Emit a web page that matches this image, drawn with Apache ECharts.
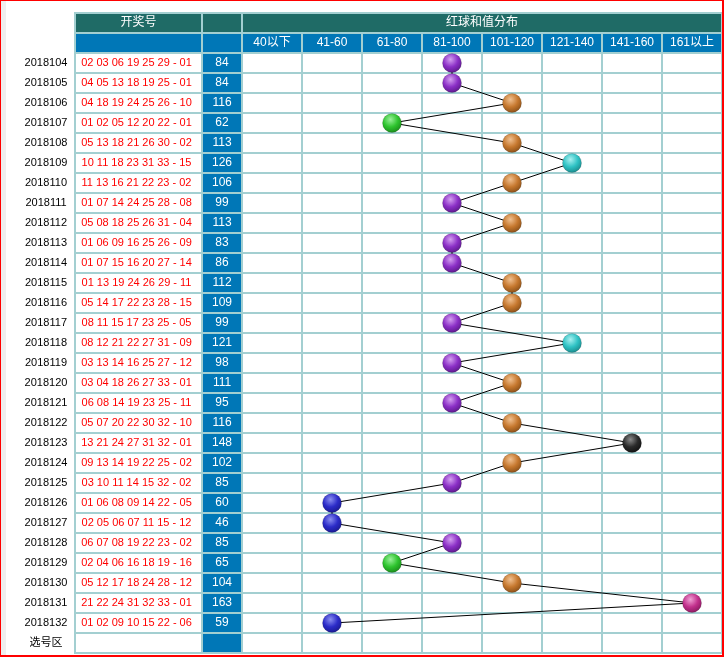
<!DOCTYPE html>
<html><head><meta charset="utf-8">
<script src="https://cdn.jsdelivr.net/npm/echarts@6/dist/echarts.min.js"></script>
<style>html,body{margin:0;padding:0;background:#fff}#c{width:725px;height:660px}</style>
</head><body><div id="c"></div>
<script>
const periods = ['2018104','2018105','2018106','2018107','2018108','2018109','2018110','2018111','2018112','2018113','2018114','2018115','2018116','2018117','2018118','2018119','2018120','2018121','2018122','2018123','2018124','2018125','2018126','2018127','2018128','2018129','2018130','2018131','2018132'];
const redBalls = [[2,3,6,19,25,29],[4,5,13,18,19,25],[4,18,19,24,25,26],[1,2,5,12,20,22],[5,13,18,21,26,30],[10,11,18,23,31,33],[11,13,16,21,22,23],[1,7,14,24,25,28],[5,8,18,25,26,31],[1,6,9,16,25,26],[1,7,15,16,20,27],[1,13,19,24,26,29],[5,14,17,22,23,28],[8,11,15,17,23,25],[8,12,21,22,27,31],[3,13,14,16,25,27],[3,4,18,26,27,33],[6,8,14,19,23,25],[5,7,20,22,30,32],[13,21,24,27,31,32],[9,13,14,19,22,25],[3,10,11,14,15,32],[1,6,8,9,14,22],[2,5,6,7,11,15],[6,7,8,19,22,23],[2,4,6,16,18,19],[5,12,17,18,24,28],[21,22,24,31,32,33],[1,2,9,10,15,22]];
const blueBalls = [1,1,10,1,2,15,2,8,4,9,14,11,15,5,9,12,1,11,10,1,2,2,5,12,2,16,12,1,6];
const sums = [84,84,116,62,113,126,106,99,113,83,86,112,109,99,121,98,111,95,116,148,102,85,60,46,85,65,104,163,59];
const bucketLabels = ['40以下','41-60','61-80','81-100','101-120','121-140','141-160','161以上'];
const bucketLimits = [40,60,80,100,120,140,160];
const headerTitles = ['开奖号','','红球和值分布'];
const footerLabel = '选号区';

const TEAL = '#a3cfd1', DARK = '#1f6b66', BLUE = '#0077b7';
const ballColors = [
  ['#9a9a9a','#555555','#333333'],
  ['#8a8ef0','#2b2bc8','#1a1a90'],
  ['#9af09a','#2ec42e','#1a8a1a'],
  ['#d4a0f0','#8b2fc6','#5c1a8a'],
  ['#f0c090','#c6782e','#8a5018'],
  ['#a8f0f0','#2ec2c4','#1a8a8c'],
  ['#8a8a8a','#2a2a2a','#111111'],
  ['#f0a0d4','#c2308c','#8a1a60']
];
function bucketOf(s){ let b=0; while(b<bucketLimits.length && s>bucketLimits[b]) b++; return b; }
function pad(n){ return (n<10?'0':'')+n; }
function grad(b){ const c=ballColors[b]; return {type:'radial',x:0.42,y:0.32,r:0.7,colorStops:[{offset:0,color:c[0]},{offset:0.55,color:c[1]},{offset:1,color:c[2]}]}; }

const rows = ['H0','H1'].concat(periods).concat([footerLabel]);
const idx = rows.map((_,i)=>i);

function cellRect(api, x, r){
  const c = api.coord([x, r]); const s = api.size([1,1]);
  return {x:c[0]-s[0]/2+1, y:c[1]-s[1]/2+1, width:s[0]-2, height:s[1]-2, cx:c[0], cy:c[1]};
}
const hdrFont = '12px "Liberation Sans","Noto Sans CJK SC",sans-serif';

function yAxisFor(gi, showLabels){
  return {type:'category', gridIndex:gi, data:rows, inverse:true, boundaryGap:true,
    axisLine:{show:false}, axisTick:{show:false},
    axisLabel:{show:showLabels, align:'center', margin:29, color:'#000', fontSize:11,
      fontFamily:'"Liberation Sans","Noto Sans CJK SC",sans-serif',
      formatter:v=> (v==='H0'||v==='H1')?'':v},
    splitLine:{show:true, interval:0, lineStyle:{color:TEAL, width:2}}};
}
function xAxisFor(gi, data){
  return {type:'category', gridIndex:gi, data:data, boundaryGap:true,
    axisLine:{show:false}, axisTick:{show:false}, axisLabel:{show:false},
    splitLine:{show:true, interval:0, lineStyle:{color:TEAL, width:2}}};
}
const gridBase = {show:true, backgroundColor:'#fff', borderColor:TEAL, borderWidth:2, top:13, height:640, containLabel:false};

const headerItems = [[0,0,1]].concat(bucketLabels.map((_,i)=>[i,1,0]));

const option = {
  animation:false,
  backgroundColor:'#fff',
  graphic:[
    {type:'rect', z:-10, shape:{x:1,y:1,width:5,height:655}, style:{fill:'#efefef'}},
    {type:'rect', z:100, shape:{x:0,y:0,width:723,height:656}, style:{fill:null, stroke:'#ff0000', lineWidth:2}}
  ],
  grid:[
    Object.assign({}, gridBase, {left:75, width:127}),
    Object.assign({}, gridBase, {left:202, width:40}),
    Object.assign({}, gridBase, {left:242, width:480})
  ],
  xAxis:[ xAxisFor(0,['n']), xAxisFor(1,['s']), xAxisFor(2,bucketLabels) ],
  yAxis:[ yAxisFor(0,true), yAxisFor(1,false), yAxisFor(2,false) ],
  series:[
    { type:'custom', xAxisIndex:0, yAxisIndex:0, data:idx, z:2,
      renderItem:(p, api)=>{
        const r = api.value(0); const rc = cellRect(api,0,r);
        if(r===0) return {type:'group', children:[
          {type:'rect', shape:{x:rc.x,y:rc.y,width:rc.width,height:rc.height}, style:{fill:DARK}},
          {type:'text', style:{text:headerTitles[0], x:rc.cx, y:rc.cy, align:'center', verticalAlign:'middle', fill:'#fff', font:hdrFont}}]};
        if(r===1) return {type:'rect', shape:{x:rc.x,y:rc.y,width:rc.width,height:rc.height}, style:{fill:BLUE}};
        if(r>=2 && r<2+periods.length){
          const i=r-2; const txt = redBalls[i].map(pad).join(' ')+' - '+pad(blueBalls[i]);
          return {type:'text', style:{text:txt, x:rc.cx-2, y:rc.cy, align:'center', verticalAlign:'middle', fill:'#ff0000', font:'11px "Liberation Sans",sans-serif'}};
        }
        return null;
      }},
    { type:'custom', xAxisIndex:1, yAxisIndex:1, data:idx, z:2,
      renderItem:(p, api)=>{
        const r = api.value(0); const rc = cellRect(api,0,r);
        const ch=[{type:'rect', shape:{x:rc.x,y:rc.y,width:rc.width,height:rc.height}, style:{fill:r===0?DARK:BLUE}}];
        if(r>=2 && r<2+periods.length)
          ch.push({type:'text', style:{text:String(sums[r-2]), x:rc.cx, y:rc.cy, align:'center', verticalAlign:'middle', fill:'#fff', font:'12px "Liberation Sans",sans-serif'}});
        return {type:'group', children:ch};
      }},
    { type:'custom', xAxisIndex:2, yAxisIndex:2, data:headerItems, z:2,
      encode:{x:0, y:1},
      renderItem:(p, api)=>{
        const b = api.value(0), kind = api.value(2);
        if(kind===1){
          const a = cellRect(api,0,0), z = cellRect(api,bucketLabels.length-1,0);
          return {type:'group', children:[
            {type:'rect', shape:{x:a.x,y:a.y,width:z.x+z.width-a.x,height:a.height}, style:{fill:DARK}},
            {type:'text', style:{text:headerTitles[2], x:(a.cx+z.cx)/2, y:a.cy, align:'center', verticalAlign:'middle', fill:'#fff', font:hdrFont}}]};
        }
        const rc = cellRect(api,b,1);
        return {type:'group', children:[
          {type:'rect', shape:{x:rc.x,y:rc.y,width:rc.width,height:rc.height}, style:{fill:BLUE}},
          {type:'text', style:{text:bucketLabels[b], x:rc.cx, y:rc.cy, align:'center', verticalAlign:'middle', fill:'#fff', font:hdrFont}}]};
      }},
    { type:'line', xAxisIndex:2, yAxisIndex:2, z:5, symbol:'circle', symbolSize:19,
      lineStyle:{color:'#000', width:1}, silent:true,
      data: sums.map((s,i)=>{ const b=bucketOf(s); return {value:[b, periods[i]], itemStyle:{color:grad(b), borderColor:'rgba(0,0,0,0.25)', borderWidth:0.6}}; }) }
  ]
};
const chart = echarts.init(document.getElementById('c'), null, {renderer:'canvas'});
chart.setOption(option);
</script></body></html>
